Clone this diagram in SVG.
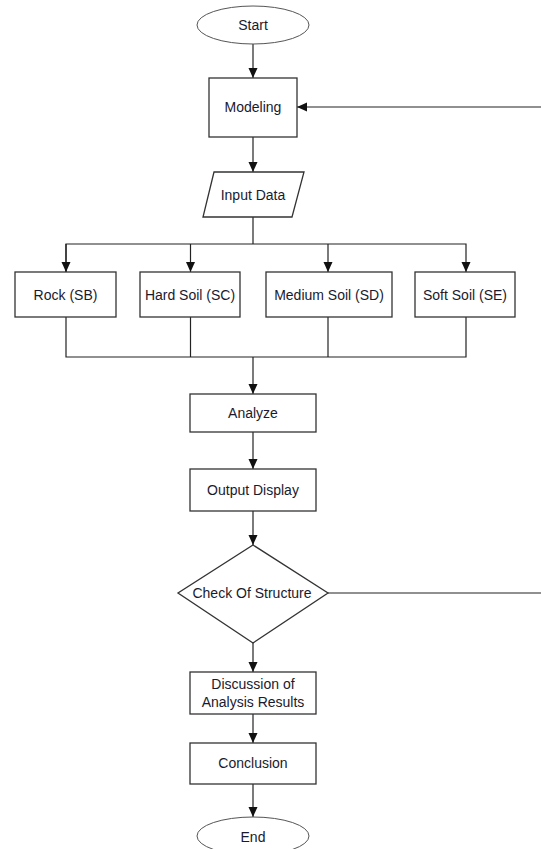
<svg xmlns="http://www.w3.org/2000/svg" width="541" height="849" viewBox="0 0 541 849">
<defs>
<marker id="arr" markerUnits="userSpaceOnUse" markerWidth="10" markerHeight="10" viewBox="0 0 10 10" refX="10" refY="5" orient="auto">
<path d="M0,0.5 L10,5 L0,9.5 Z" fill="#111"/>
</marker>
<style>
.shape{fill:#fff;stroke:#333;stroke-width:1.3}
.oval{fill:#fff;stroke:#555;stroke-width:1}
.line{fill:none;stroke:#222;stroke-width:1.2}
.lbl{font-family:"Liberation Sans",Arial,sans-serif;font-size:14px;fill:#1a1a2e;text-anchor:middle}
</style>
</defs>
<rect width="541" height="849" fill="#fff"/>
<g id="connectors">
<path class="line" d="M253,44 V78" marker-end="url(#arr)"/>
<path class="line" d="M253,137 V172" marker-end="url(#arr)"/>
<path class="line" d="M253,217 V244"/>
<path class="line" d="M66,272 V244 H466 V272" marker-end="url(#arr)"/>
<path class="line" d="M66,244 V272" marker-end="url(#arr)"/>
<path class="line" d="M190.5,244 V272" marker-end="url(#arr)"/>
<path class="line" d="M328,244 V272" marker-end="url(#arr)"/>
<path class="line" d="M66,317 V357 H466 V317"/>
<path class="line" d="M190.5,317 V357"/>
<path class="line" d="M328,317 V357"/>
<path class="line" d="M253,357 V394" marker-end="url(#arr)"/>
<path class="line" d="M253,432 V469" marker-end="url(#arr)"/>
<path class="line" d="M253,511 V545" marker-end="url(#arr)"/>
<path class="line" d="M253,643 V672" marker-end="url(#arr)"/>
<path class="line" d="M253,714 V743" marker-end="url(#arr)"/>
<path class="line" d="M253,784 V817" marker-end="url(#arr)"/>
<path class="line" d="M328,593 H546 V107 H297" marker-end="url(#arr)"/>
</g>
<g id="start">
<ellipse class="oval" cx="253" cy="25" rx="56" ry="19"/>
<text class="lbl" x="253" y="30">Start</text>
</g>
<g id="modeling">
<rect class="shape" x="209" y="78" width="88" height="59"/>
<text class="lbl" x="253" y="112">Modeling</text>
</g>
<g id="input">
<polygon class="shape" points="214,172 304,172 292,217 203,217"/>
<text class="lbl" x="253" y="200">Input Data</text>
</g>
<g id="rock">
<rect class="shape" x="15" y="272" width="101" height="45"/>
<text class="lbl" x="65.5" y="300">Rock (SB)</text>
</g>
<g id="hard">
<rect class="shape" x="140" y="272" width="100" height="45"/>
<text class="lbl" x="190" y="300">Hard Soil (SC)</text>
</g>
<g id="medium">
<rect class="shape" x="266" y="272" width="126" height="45"/>
<text class="lbl" x="329" y="300">Medium Soil (SD)</text>
</g>
<g id="soft">
<rect class="shape" x="415" y="272" width="100" height="45"/>
<text class="lbl" x="465" y="300">Soft Soil (SE)</text>
</g>
<g id="analyze">
<rect class="shape" x="190" y="394" width="126" height="38"/>
<text class="lbl" x="253" y="418">Analyze</text>
</g>
<g id="output">
<rect class="shape" x="190" y="469" width="126" height="42"/>
<text class="lbl" x="253" y="495">Output Display</text>
</g>
<g id="check">
<polygon class="shape" points="253,545 328,593 253,643 178,593"/>
<text class="lbl" x="252" y="598">Check Of Structure</text>
</g>
<g id="discussion">
<rect class="shape" x="190" y="672" width="126" height="42"/>
<text class="lbl" x="253" y="689">Discussion of</text>
<text class="lbl" x="253" y="707">Analysis Results</text>
</g>
<g id="conclusion">
<rect class="shape" x="190" y="743" width="126" height="41"/>
<text class="lbl" x="253" y="768">Conclusion</text>
</g>
<g id="end">
<ellipse class="oval" cx="253" cy="836" rx="56" ry="19"/>
<text class="lbl" x="253" y="842">End</text>
</g>
</svg>
